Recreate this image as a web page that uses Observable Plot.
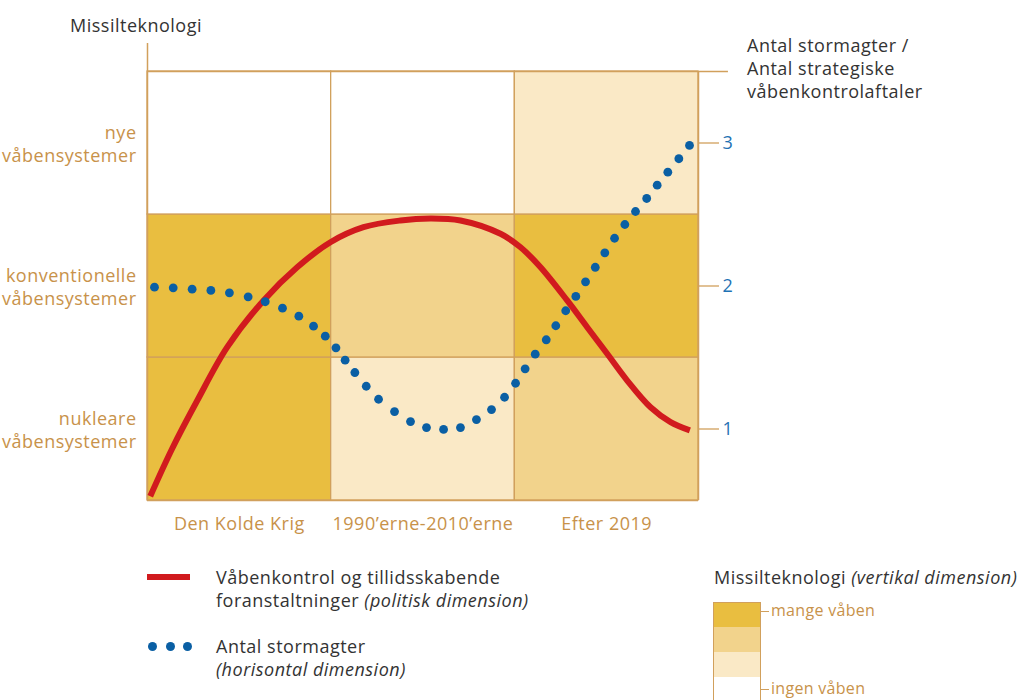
<!DOCTYPE html>
<html>
<head>
<meta charset="utf-8">
<script src="https://cdn.jsdelivr.net/npm/d3@7"></script>
<script src="https://cdn.jsdelivr.net/npm/@observablehq/plot@0.6"></script>
<style>
  html, body { margin: 0; padding: 0; background: #fff; }
  body { width: 1027px; height: 700px; position: relative; overflow: hidden; font-family: "Open Sans", sans-serif; color: #333; }
  .abs { position: absolute; font-size: 18px; letter-spacing: 0.5px; line-height: 23px; white-space: nowrap; }
  #chart { position: absolute; left: 0; top: 0; }
  .sw { position: absolute; left: 713px; width: 46px; }
</style>
</head>
<body>
<div id="chart"></div>
<div class="abs" style="left:70px; top:14px;">Missilteknologi</div>
<div class="abs" style="left:747px; top:34px;">Antal stormagter /<br>Antal strategiske<br>våbenkontrolaftaler</div>

<div id="leg1" style="position:absolute; left:147px; top:574px; width:43px; height:6px; background:#D11A1E;"></div>
<div class="abs" style="left:216px; top:566px;">Våbenkontrol og tillidsskabende<br>foranstaltninger <i>(politisk dimension)</i></div>
<div id="leg2dots" style="position:absolute; left:147px; top:640px;"></div>
<div class="abs" style="left:216px; top:635px;">Antal stormagter<br><i>(horisontal dimension)</i></div>

<div class="abs" style="left:714px; top:566px;">Missilteknologi <i>(vertikal dimension)</i></div>
<div id="swatches"></div>

<script>
// ---- data ----
const columns = ["Den Kolde Krig", "1990’erne-2010’erne", "Efter 2019"];
const rowLabels = ["nukleare\nvåbensystemer", "konventionelle\nvåbensystemer", "nye\nvåbensystemer"];
const rightTicks = [1, 2, 3];
// level of missile technology per row (bottom -> top), per column: 0 = ingen våben ... 3 = mange våben
const levelsNukleare = [3, 1, 2];
const levelsKonventionelle = [3, 2, 3];
const levelsNye = [0, 0, 1];
const levelColors = ["#FFFFFF", "#FAE9C6", "#F2D38C", "#E9BE40"];
const levelLegendLabels = ["mange våben", "ingen våben"];

// Antal stormagter (dotted series)
const dotX = [0.038,0.140,0.243,0.345,0.446,0.548,0.641,0.735,0.824,0.904,0.968,1.026,1.076,1.129,1.191,1.258,1.345,1.432,1.519,1.612,1.704,1.791,1.873,1.944,2.004,2.056,2.111,2.171,2.223,2.277,2.332,2.385,2.438,2.490,2.543,2.599,2.657,2.718,2.775,2.833,2.893,2.951];
const dotY = [1.992,1.987,1.978,1.969,1.952,1.924,1.890,1.845,1.789,1.719,1.649,1.568,1.481,1.395,1.299,1.208,1.122,1.052,1.010,0.997,1.010,1.066,1.136,1.222,1.320,1.421,1.523,1.624,1.722,1.827,1.927,2.029,2.131,2.232,2.334,2.430,2.521,2.612,2.705,2.796,2.890,2.983];

// Våbenkontrol (red line)
const lineX = [0.015,0.134,0.271,0.434,0.632,0.815,0.996,1.176,1.377,1.541,1.704,1.922,2.031,2.140,2.285,2.394,2.503,2.612,2.739,2.848,2.953];
const lineY = [0.530,0.862,1.199,1.572,1.899,2.131,2.306,2.411,2.458,2.472,2.458,2.365,2.271,2.131,1.899,1.712,1.526,1.339,1.152,1.048,0.990];

// ---- build tables ----
const rowLevels = [levelsNukleare, levelsKonventionelle, levelsNye];
const cells = [];
rowLevels.forEach((lv, r) => lv.forEach((level, c) => cells.push({col: c, row: r + 1, level})));
const dots = dotX.map((x, i) => ({x, y: dotY[i]}));
const line = lineX.map((x, i) => ({x, y: lineY[i]}));

const tan = "#D1A05C";
const labelTan = "#C8924A";
const blue = "#1F72B4";

const chart = Plot.plot({
  width: 1027,
  height: 545,
  marginLeft: 147,
  marginRight: 329,
  marginTop: 71,
  marginBottom: 45,
  style: {fontFamily: "Open Sans, sans-serif", fontSize: "18px", letterSpacing: "0.5px", background: "transparent"},
  x: {domain: [0, 3], axis: null},
  y: {domain: [0.5, 3.5], axis: null},
  marks: [
    Plot.rect(cells, {x1: d => d.col, x2: d => d.col + 1, y1: d => d.row - 0.5, y2: d => d.row + 0.5,
      fill: d => levelColors[d.level], stroke: tan, strokeWidth: 1.3}),
    Plot.ruleY([3.5], {x1: 0, x2: 3.163, stroke: tan, strokeWidth: 1.5}),
    Plot.ruleX([0], {y1: 0.5, y2: 3.696, stroke: tan, strokeWidth: 1.5}),
    Plot.ruleX([3], {y1: 0.5, y2: 3.5, stroke: tan, strokeWidth: 1.5}),
    Plot.ruleY([0.5], {x1: 0, x2: 3, stroke: tan, strokeWidth: 1.5}),
    Plot.axisX({ticks: [0.5, 1.5, 2.5], tickFormat: v => columns[Math.floor(v)], tickSize: 0, tickPadding: 17,
      fill: labelTan, fontSize: 18, label: null}),
    Plot.axisY({anchor: "left", ticks: [1, 2, 3], tickFormat: v => rowLabels[v - 1], tickSize: 0, tickPadding: 11,
      fill: labelTan, fontSize: 18, lineHeight: 1.3, label: null}),
    Plot.axisY({anchor: "right", ticks: rightTicks, tickSize: 20, stroke: tan, strokeWidth: 1.3, text: null, label: null}),
    Plot.axisY({anchor: "right", ticks: rightTicks, tickFormat: d3.format("d"), tickSize: 0, tickPadding: 24, fill: blue, fontSize: 18, label: null}),
    Plot.line(line, {x: "x", y: "y", stroke: "#D11A1E", strokeWidth: 6, curve: "catmull-rom", strokeLinecap: "butt"}),
    Plot.dot(dots, {x: "x", y: "y", r: 4.4, fill: "#0A5FA4", stroke: "none"})
  ]
});
document.getElementById("chart").appendChild(chart);

// legend dots
const ld = document.getElementById("leg2dots");
[5, 23, 40].forEach(x => {
  const d = document.createElement("div");
  d.style.cssText = `position:absolute; left:${x - 4.5}px; top:1.5px; width:9px; height:9px; border-radius:50%; background:#0A5FA4;`;
  ld.appendChild(d);
});

// swatches (top = mange våben)
const sw = document.getElementById("swatches");
const swTops = [602, 627, 652, 677];
[3, 2, 1, 0].forEach((lv, i) => {
  const d = document.createElement("div");
  d.className = "sw";
  d.style.top = swTops[i] + "px";
  d.style.height = "25px";
  d.style.background = levelColors[lv];
  d.style.borderLeft = "1.5px solid " + tan;
  d.style.borderRight = "1.5px solid " + tan;
  if (i === 0) d.style.borderTop = "1.5px solid " + tan;
  sw.appendChild(d);
});
[[levelLegendLabels[0], 611], [levelLegendLabels[1], 689]].forEach(([t, y]) => {
  const tick = document.createElement("div");
  tick.style.cssText = `position:absolute; left:761px; top:${y}px; width:8px; height:1.3px; background:${tan};`;
  sw.appendChild(tick);
  const lab = document.createElement("div");
  lab.className = "abs";
  lab.style.cssText += `left:771px; top:${y - 12}px; color:${labelTan}; font-size:16px; letter-spacing:0.3px;`;
  lab.textContent = t;
  sw.appendChild(lab);
});
</script>
</body>
</html>
